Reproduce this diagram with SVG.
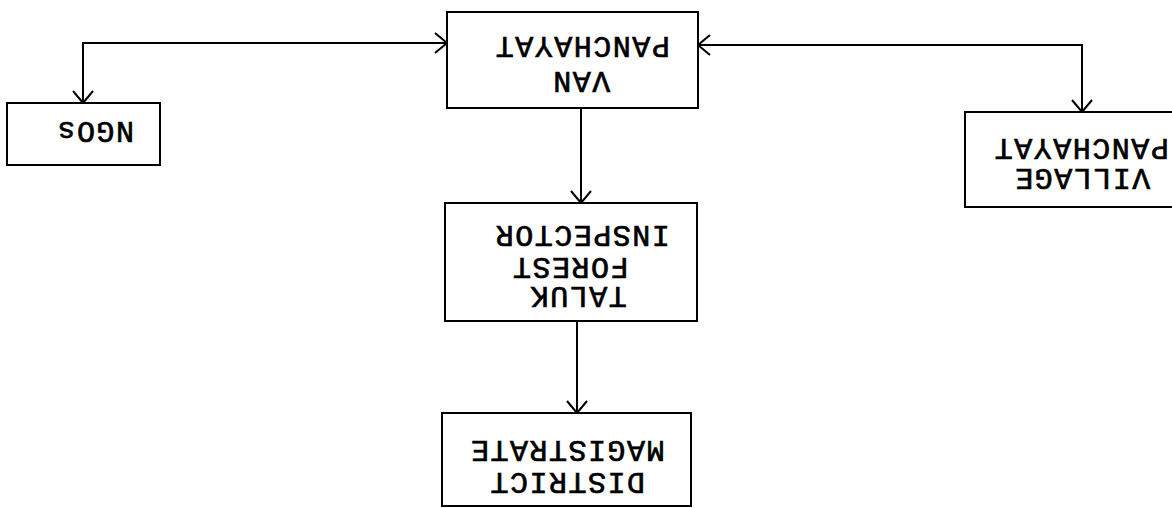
<svg xmlns="http://www.w3.org/2000/svg" width="1172" height="508" viewBox="0 0 1172 508">
<style>
.box{fill:#fff;stroke:#000;stroke-width:2}
.lbl{font-family:"Liberation Mono","Courier New",monospace;font-size:30px;letter-spacing:1.5px;text-anchor:middle;fill:#000;stroke:#000;stroke-width:0.7px}
.con{fill:none;stroke:#000;stroke-width:2}
</style>
<defs>
<marker id="ah" viewBox="0 0 14 22" refX="13" refY="11" markerWidth="14" markerHeight="22" markerUnits="userSpaceOnUse" orient="auto-start-reverse">
<path d="M1,1 L13,11 L1,21" fill="none" stroke="#000" stroke-width="2"/>
</marker>
</defs>
<rect width="1172" height="508" fill="#fff"/>
<g id="connectors">
<path class="con" d="M83,103 L83,43 L447,43" marker-start="url(#ah)" marker-end="url(#ah)"/>
<path class="con" d="M698,45 L1082,45 L1082,112" marker-start="url(#ah)" marker-end="url(#ah)"/>
<path class="con" d="M581,108 L581,203" marker-end="url(#ah)"/>
<path class="con" d="M577,321 L577,413" marker-end="url(#ah)"/>
</g>
<g id="van-panchayat">
<rect class="box" x="447" y="12" width="251" height="96"/>
<text class="lbl" x="582" y="57" transform="rotate(180 582 47)">PANCHAYAT</text>
<text class="lbl" x="581" y="92" transform="rotate(180 581 82)">VAN</text>
</g>
<g id="ngos">
<rect class="box" x="7" y="103" width="153" height="62"/>
<text class="lbl" x="95" y="142" transform="rotate(180 95 132)">NGOs</text>
</g>
<g id="village-panchayat">
<rect class="box" x="965" y="112" width="215" height="95"/>
<text class="lbl" x="1081" y="159" transform="rotate(180 1081 149)">PANCHAYAT</text>
<text class="lbl" x="1082" y="189" transform="rotate(180 1082 179)">VILLAGE</text>
</g>
<g id="taluk-forest-inspector">
<rect class="box" x="445" y="203" width="252" height="118"/>
<text class="lbl" x="582" y="246" transform="rotate(180 582 236)">INSPECTOR</text>
<text class="lbl" x="570" y="278" transform="rotate(180 570 268)">FOREST</text>
<text class="lbl" x="578" y="307" transform="rotate(180 578 297)">TALUK</text>
</g>
<g id="district-magistrate">
<rect class="box" x="442" y="413" width="249" height="93"/>
<text class="lbl" x="567" y="461" transform="rotate(180 567 451)">MAGISTRATE</text>
<text class="lbl" x="567" y="493" transform="rotate(180 567 483)">DISTRICT</text>
</g>
</svg>
